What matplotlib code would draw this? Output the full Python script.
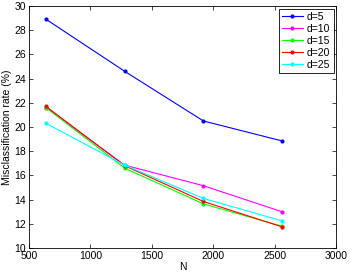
import numpy as np
import matplotlib
matplotlib.use('Agg')
import matplotlib.pyplot as plt

N = [640, 1280, 1920, 2560]
d5 = [28.9, 24.6, 20.5, 18.85]
d10 = [21.6, 16.85, 15.15, 13.0]
d15 = [21.6, 16.6, 13.65, 11.8]
d20 = [21.7, 16.8, 13.85, 11.75]
d25 = [20.3, 16.85, 14.1, 12.25]
labels = ['d=5', 'd=10', 'd=15', 'd=20', 'd=25']
colors = ['#0000ff', '#ff00ff', '#00ff00', '#ff0000', '#00ffff']

plt.rcParams['font.family'] = 'Liberation Sans'
plt.rcParams['font.size'] = 7

fig = plt.figure(figsize=(3.52, 2.72), dpi=100)
ax = fig.add_axes([0.082, 0.088, 0.873, 0.89])
for ys, lab, c in zip([d5, d10, d15, d20, d25], labels, colors):
  ax.plot(N, ys, '.-', color=c, label=lab, linewidth=0.8, markersize=4)

ax.set_xlim(500, 3000)
ax.set_ylim(10, 30)
ax.set_xticks(np.arange(500, 3001, 500))
ax.set_yticks(np.arange(10, 31, 2))
ax.tick_params(direction='in', length=3, width=0.5, top=True, right=True, labelsize=7.5, pad=2)
for s in ax.spines.values():
  s.set_linewidth(0.6)
ax.set_xlabel('N', fontsize=7.5, labelpad=1)
ax.set_ylabel('Misclassification rate (%)', fontsize=7.5, labelpad=2)
leg = ax.legend(loc='upper right', fontsize=7.5, fancybox=False, framealpha=1,
                edgecolor='black', handlelength=2.0, handletextpad=0.4, borderpad=0.3,
                labelspacing=0.2, borderaxespad=0.25)
leg.get_frame().set_linewidth(0.6)
fig.savefig('out.png', dpi=100)
